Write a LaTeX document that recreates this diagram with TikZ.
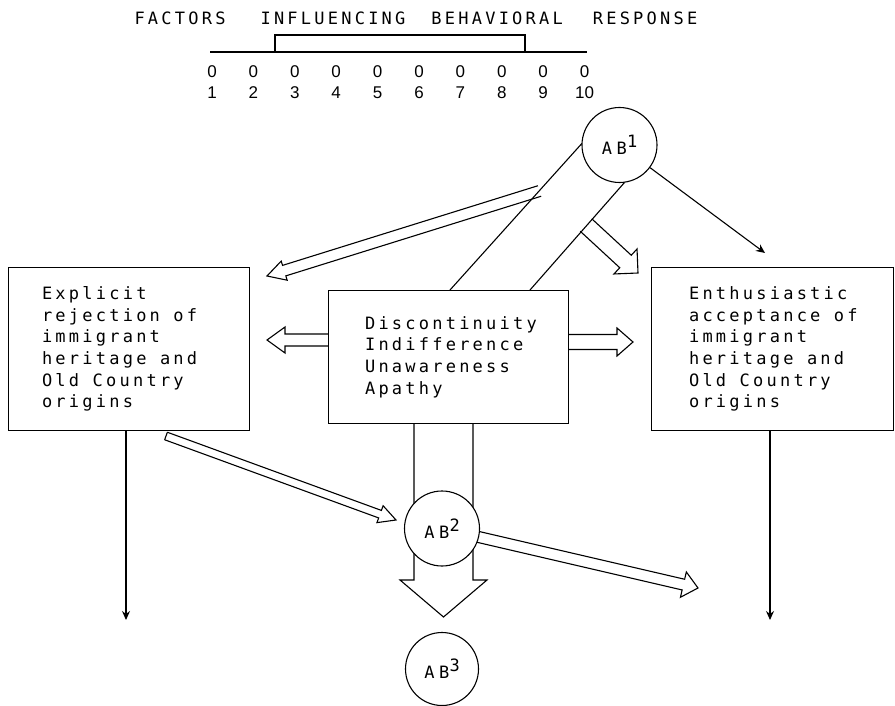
\documentclass[tikz,border=0pt]{standalone}
\usepackage{fontspec}
\usetikzlibrary{calc,arrows.meta}
\newfontfamily\tfont{DejaVu Sans Mono}[LetterSpace=19]
\newfontfamily\abfont{DejaVu Sans Mono}[LetterSpace=28]
\newfontfamily\dfont{Liberation Sans}
\newcommand\wsp{\nobreak\hspace{13.5pt}\nobreak}
\newcommand\hollowarrow[5]{%
  \coordinate (hh) at ($(#2)!#5!(#1)$);
  \draw[blk] ($(#1)!#3!90:(#2)$) -- ($(hh)!#3!90:(#2)$) -- ($(hh)!#4!90:(#2)$) -- (#2)
    -- ($(hh)!#4!-90:(#2)$) -- ($(hh)!#3!-90:(#2)$) -- ($(#1)!#3!-90:(#2)$);}
\begin{document}
\begin{tikzpicture}[x=1pt,y=-1pt,line width=1.1pt,line join=miter,
  txt/.style={font=\tfont\fontsize{17}{21.7}\selectfont},
  box/.style={draw,rectangle,fill=white,align=left,txt,inner ysep=0pt,anchor=north west},
  circ/.style={draw,circle,fill=white,minimum size=75pt,inner sep=0pt,font=\abfont\fontsize{17}{17}\selectfont},
  dig/.style={font=\dfont\fontsize{17}{17}\selectfont,inner sep=0pt},
  blk/.style={line width=1.1pt},
  thinarr/.style={-{Stealth[length=9pt,width=8pt,inset=3pt]},line width=1.1pt}]
\useasboundingbox (0,0) rectangle (895,706);

% title and scale
\node[txt,anchor=base west,inner sep=0pt] (title) at (134,25)
  {FACTORS\hspace{35pt}INFLUENCING\hspace{26pt}BEHAVIORAL\hspace{30pt}RESPONSE};
\draw (210,52) -- (587,52);
\draw (275,52) -- (275,35) -- (525,35) -- (525,52);
\foreach \i in {1,...,10} {
  \node[dig] (z\i) at ({212+41.4*(\i-1)},71.5) {0};
  \node[dig] (n\i) at ({212+41.4*(\i-1)},92.5) {\i};
}

% coordinates
\coordinate (bandL) at (450,290);
\coordinate (bandR) at (530,290);
\coordinate (cL) at (582.3,143);
\coordinate (cR) at (624.5,182.5);
\coordinate (ulT) at (539.5,191);
\coordinate (ulH) at (267,276);
\coordinate (drT) at (586,225);
\coordinate (drH) at (638,273);
\coordinate (lcT) at (328,340);
\coordinate (lcH) at (267,340);
\coordinate (rcT) at (568,342);
\coordinate (rcH) at (633,342);
\coordinate (laT) at (166,436);
\coordinate (laH) at (396,520);
\coordinate (raH) at (698,588);
\coordinate (dnT) at (443.5,423);
\coordinate (dnH) at (443.5,617);
\coordinate (e1) at (765,253);
\coordinate (ld) at (126,620);
\coordinate (rd) at (770,620);

% band from AB1 to centre box
\draw (bandL) -- (cL);
\draw (bandR) -- (cR);

% hollow arrows
\hollowarrow{ulT}{ulH}{5.5pt}{10pt}{18pt}
\hollowarrow{drT}{drH}{8.5pt}{17pt}{17pt}
\hollowarrow{lcT}{lcH}{6pt}{13pt}{18pt}
\hollowarrow{rcT}{rcH}{7.5pt}{14pt}{16pt}
\hollowarrow{laT}{laH}{4pt}{9pt}{17pt}
\draw[blk] ($(laT)!4pt!90:(laH)$) -- ($(laT)!4pt!-90:(laH)$);
\coordinate (raT) at (442,528.5);
\hollowarrow{raT}{raH}{5.5pt}{13pt}{15pt}
\hollowarrow{dnT}{dnH}{29.5pt}{43.5pt}{37pt}

% boxes
\node[box,minimum width=241pt,minimum height=163pt,text width=174pt] (L) at (8,267)
  {Explicit\\rejection\wsp of\\immigrant\\heritage\wsp and\\Old\wsp Country\\origins};
\node[box,minimum width=242pt,minimum height=163pt,text width=167pt] (R) at (651,267)
  {Enthusiastic\\acceptance\wsp of\\immigrant\\heritage\wsp and\\Old\wsp Country\\origins};
\node[box,minimum width=240pt,minimum height=133pt,text width=167pt] (C) at (328,290)
  {Discontinuity\\Indifference\\Unawareness\\Apathy};

% circles
\node[circ] (AB1) at (619.5,145) {AB\raisebox{7pt}{1}};
\node[circ] (AB2) at (442,528.5) {AB\raisebox{7pt}{2}};
\node[circ,minimum size=73pt] (AB3) at (442,669) {AB\raisebox{7pt}{3}};

% thin arrows
\draw[thinarr] (AB1) -- (e1);
\draw[thinarr] (L.south -| ld) -- (ld);
\draw[thinarr] (R.south -| rd) -- (rd);
\end{tikzpicture}
\end{document}
